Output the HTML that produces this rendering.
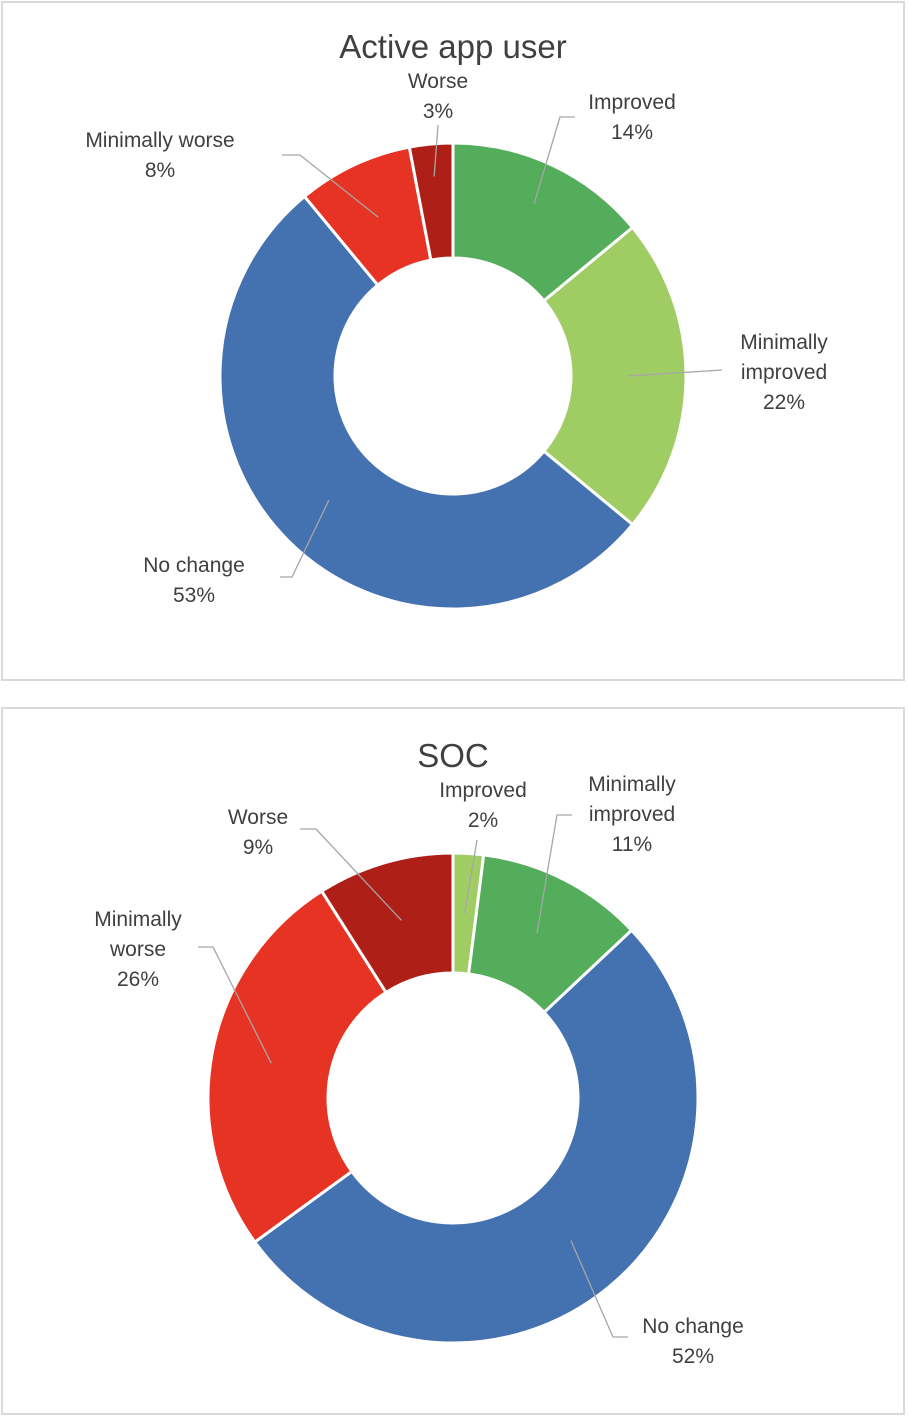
<!DOCTYPE html>
<html><head><meta charset="utf-8"><style>
html,body{margin:0;padding:0;background:#fff;width:908px;height:1416px;overflow:hidden}
svg{position:absolute;left:0;top:0}
text{font-family:"Liberation Sans",sans-serif;fill:#404040}
</style></head><body>
<svg id="s" width="908" height="1416"></svg>
<script>
const chart1Categories = ["Improved","Minimally improved","No change","Minimally worse","Worse"];
const chart1Values = [14,22,53,8,3];
const chart2Categories = ["Improved","Minimally improved","No change","Minimally worse","Worse"];
const chart2Values = [2,11,52,26,9];

const NS="http://www.w3.org/2000/svg";
const svg=document.getElementById('s');
function el(tag,attrs,parent){const e=document.createElementNS(NS,tag);for(const k in attrs)e.setAttribute(k,attrs[k]);(parent||svg).appendChild(e);return e;}

function drawChart(cfg){
  const g=el('g',{});
  
  
  const box=el('rect',{x:cfg.box[0],y:cfg.box[1],width:cfg.box[2],height:cfg.box[3],fill:'#fff',stroke:'#d9d9d9','stroke-width':2},g);
  
  
  const t=el('text',{x:453,y:cfg.titleY,'text-anchor':'middle','font-size':33},g);
  t.textContent=cfg.title;
  
  
  const total=cfg.values.reduce((a,b)=>a+b,0);
  let acc=0;
  const cx=cfg.cx,cy=cfg.cy,ro=cfg.ro,ri=cfg.ri;
  const pt=(a,r)=>[cx+r*Math.sin(a),cy-r*Math.cos(a)];
  cfg.values.forEach((v,i)=>{
    const a0=acc/total*2*Math.PI; acc+=v; const a1=acc/total*2*Math.PI;
    const large=(a1-a0)>Math.PI?1:0;
    const p0=pt(a0,ro),p1=pt(a1,ro),q1=pt(a1,ri),q0=pt(a0,ri);
    const d=`M${p0}A${ro},${ro} 0 ${large} 1 ${p1}L${q1}A${ri},${ri} 0 ${large} 0 ${q0}Z`;
    const p=el('path',{d:d,fill:cfg.colors[i],stroke:'#fff','stroke-width':3},g);
    
    
    const am=(a0+a1)/2; const s=pt(am,(ro+ri)/2+cfg.lr[i]);
    const L=cfg.labels[i];
    let pts=`${s} ${L.elbow}`; if(L.end) pts+=` ${L.end}`;
    const ln=el('polyline',{points:pts,fill:'none',stroke:'#a6a6a6','stroke-width':1.3},g);
    
    
    const tx=el('text',{x:L.x,y:L.y,'text-anchor':'middle','font-size':21},g);
    
    
    L.lines.concat([v+'%']).forEach((s2,j)=>{const ts=el('tspan',{x:L.x,dy:j?30:0},tx);ts.textContent=s2;});
  });
}
drawChart({name:'active-app-user-chart',title:'Active app user',box:[2,2,902,678],titleY:58,cx:453,cy:376,ro:233,ri:118,
 cats:chart1Categories,values:chart1Values,colors:['#53ad5b','#a0cd63','#4472b0','#e63323','#ae1f17'],lr:[15,0,0,0,25],
 labels:[{x:632,y:109,lines:['Improved'],elbow:[560,117],end:[575,117]},
 {x:784,y:349,lines:['Minimally','improved'],elbow:[722,370]},
 {x:194,y:572,lines:['No change'],elbow:[292,577],end:[280,577]},
 {x:160,y:147,lines:['Minimally worse'],elbow:[300,155],end:[282,155]},
 {x:438,y:88,lines:['Worse'],elbow:[438,125]}]});
drawChart({name:'soc-chart',title:'SOC',box:[2,708,902,706],titleY:767,cx:453,cy:1098,ro:245,ri:125,
 cats:chart2Categories,values:chart2Values,colors:['#a0cd63','#53ad5b','#4472b0','#e63323','#ae1f17'],lr:[0,0,0,0,0],
 labels:[{x:483,y:797,lines:['Improved'],elbow:[477,840]},
 {x:632,y:791,lines:['Minimally','improved'],elbow:[557,815],end:[572,815]},
 {x:693,y:1333,lines:['No change'],elbow:[613,1337],end:[628,1337]},
 {x:138,y:926,lines:['Minimally','worse'],elbow:[213,947],end:[198,947]},
 {x:258,y:824,lines:['Worse'],elbow:[316,829],end:[300,829]}]});
</script>
</body></html>
